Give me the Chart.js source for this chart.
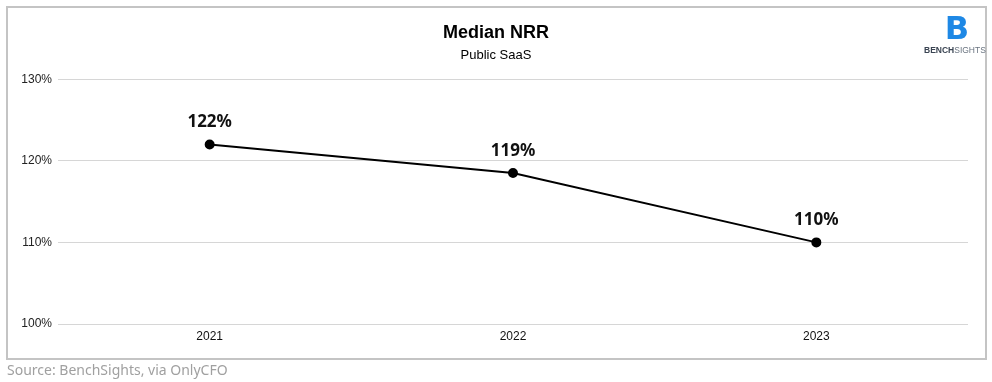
<!DOCTYPE html>
<html>
<head>
<meta charset="utf-8">
<script src="https://cdn.jsdelivr.net/npm/chart.js@4/dist/chart.umd.min.js"></script>
<style>
  html, body { margin: 0; padding: 0; background: #fff; }
  #wrap { position: relative; width: 992px; height: 382px; overflow: hidden; }
  #frame { position: absolute; left: 6px; top: 6px; width: 977px; height: 350px; border: 2px solid #c4c4c4; box-sizing: content-box; }
  #cv { position: absolute; left: 0; top: 0; }
  #source { position: absolute; left: 7px; top: 360px; font-family: "Noto Sans", sans-serif; font-size: 14px; color: #a0a0a0; }
</style>
</head>
<body>
<div id="wrap">
  <div id="frame"></div>
  <canvas id="cv" width="992" height="382"></canvas>
  <div id="source">Source: BenchSights, via OnlyCFO</div>
</div>
<script>
const years = ["2021", "2022", "2023"];
const medianNRR = [122, 118.5, 110];
const yTicks = [100, 110, 120, 130];

const pointLabels = {
  id: 'pointLabels',
  afterDatasetsDraw(chart) {
    const ctx = chart.ctx;
    const meta = chart.getDatasetMeta(0);
    ctx.save();
    ctx.font = 'bold 17px "Noto Sans", sans-serif';
    ctx.fillStyle = '#111';
    ctx.textAlign = 'center';
    ctx.textBaseline = 'middle';
    meta.data.forEach((pt, i) => {
      ctx.fillText(Math.round(medianNRR[i]) + '%', pt.x, pt.y - 22);
    });
    ctx.restore();
  }
};

const logo = {
  id: 'logo',
  afterDraw(chart) {
    const ctx = chart.ctx;
    ctx.save();
    ctx.fillStyle = '#1e88e5';
    ctx.font = 'bold 32px "DejaVu Sans", sans-serif';
    ctx.textAlign = 'center';
    ctx.textBaseline = 'middle';
    ctx.fillText('B', 957, 31);
    ctx.font = 'bold 8.5px "Liberation Sans", sans-serif';
    ctx.textAlign = 'left';
    ctx.fillStyle = '#3a4452';
    ctx.fillText('BENCH', 924, 51);
    const w = ctx.measureText('BENCH').width;
    ctx.font = '8.5px "Liberation Sans", sans-serif';
    ctx.fillStyle = '#6a7480';
    ctx.fillText('SIGHTS', 924 + w, 51);
    ctx.restore();
  }
};

new Chart(document.getElementById('cv'), {
  type: 'line',
  data: {
    labels: years,
    datasets: [{
      data: medianNRR,
      yAxisID: 'y',
      borderColor: '#000',
      backgroundColor: '#000',
      borderWidth: 2,
      pointRadius: 4,
      pointBackgroundColor: '#000',
      pointBorderColor: '#000',
      tension: 0
    }]
  },
  options: {
    responsive: false,
    animation: false,
    devicePixelRatio: 1,
    layout: { padding: { left: 0, right: 0, top: 0, bottom: 28 } },
    plugins: {
      legend: { display: false },
      tooltip: { enabled: false },
      title: {
        display: true,
        text: 'Median NRR',
        color: '#000',
        font: { family: '"Liberation Sans", Arial, sans-serif', size: 18, weight: 'bold' },
        padding: { top: 22, bottom: 4 }
      },
      subtitle: {
        display: true,
        text: 'Public SaaS',
        color: '#000',
        font: { family: '"Liberation Sans", Arial, sans-serif', size: 13 },
        padding: { top: 0, bottom: 16 }
      }
    },
    scales: {
      x: {
        offset: true,
        grid: { display: false, drawTicks: false },
        border: { display: false },
        ticks: { color: '#111', font: { family: '"Liberation Sans", Arial, sans-serif', size: 12 }, padding: 5 },
        afterFit(s) { s.height = 30; }
      },
      y: {
        min: 100,
        max: 130,
        afterBuildTicks(s) { s.ticks = yTicks.map(v => ({ value: v })); },
        grid: { color: '#d6d6d6', lineWidth: 1, drawTicks: false },
        border: { display: false },
        ticks: {
          color: '#222',
          padding: 6,
          font: { family: '"Liberation Sans", Arial, sans-serif', size: 12 },
          callback: v => v + '%'
        },
        afterFit(s) { s.width = 58; }
      },
      yRight: {
        position: 'right',
        min: 100,
        max: 130,
        grid: { display: false, drawTicks: false },
        border: { display: false },
        ticks: { display: false },
        afterFit(s) { s.width = 24; }
      }
    }
  },
  plugins: [pointLabels, logo]
});
</script>
</body>
</html>
